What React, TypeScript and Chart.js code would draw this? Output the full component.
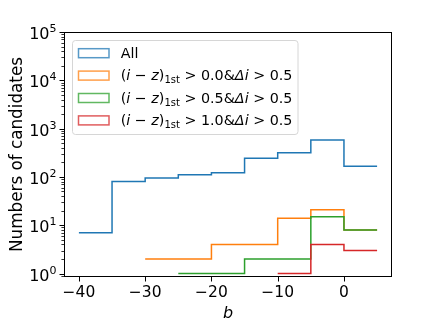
import React, { useEffect, useRef } from "react";
import { Chart, registerables } from "chart.js";

Chart.register(...registerables);

// ---- data ----
const binEdges = [-40, -35, -30, -25, -20, -15, -10, -5, 0, 5];
const allCounts: (number | null)[] = [7, 81, 95, 111, 122, 243, 318, 583, 166];
const cut00Counts: (number | null)[] = [null, null, 2, 2, 4, 4, 14, 21, 8];
const cut05Counts: (number | null)[] = [null, null, null, 1, 1, 2, 2, 15, 8];
const cut10Counts: (number | null)[] = [null, null, null, null, null, null, 1, 4, 3];
const seriesCounts = [allCounts, cut00Counts, cut05Counts, cut10Counts];
const seriesColors = ["#1f77b4", "#ff7f0e", "#2ca02c", "#d62728"];
const cutThresholds = ["0.0", "0.5", "1.0"];
const deltaICut = "0.5";
const xTickValues = [-40, -30, -20, -10, 0];
const yTickValues = [1, 10, 100, 1000, 10000, 100000];
const yTickExponents = ["0", "1", "2", "3", "4", "5"];
const xTitle = "b";
const yTitle = "Numbers of candidates";

const FONT = "'DejaVu Sans', sans-serif";

function stepPoints(counts: (number | null)[]) {
  const pts: { x: number; y: number }[] = [];
  let last = -1;
  counts.forEach((c, i) => {
    if (c !== null) {
      pts.push({ x: binEdges[i], y: c });
      last = i;
    }
  });
  if (last >= 0) pts.push({ x: binEdges[last + 1], y: counts[last] as number });
  return pts;
}

type Seg = [string, "n" | "i" | "sub"];
function legendRows(): Seg[][] {
  const rows: Seg[][] = [[["All", "n"]]];
  for (const t of cutThresholds) {
    rows.push([
      ["(", "n"],
      ["i", "i"],
      [" − ", "n"],
      ["z", "i"],
      [")", "n"],
      ["1st", "sub"],
      [" > " + t + "&", "n"],
      ["Δ", "i"],
      ["i", "i"],
      [" > " + deltaICut, "n"],
    ]);
  }
  return rows;
}

const decorPlugin = {
  id: "decor",
  afterDraw(chart: any) {
    const { ctx, chartArea: a, scales } = chart;
    const xs = scales.x;
    const ys = scales.y;
    ctx.save();
    ctx.strokeStyle = "#000";
    // x major ticks
    ctx.lineWidth = 1;
    for (const v of xTickValues) {
      const px = Math.round(xs.getPixelForValue(v)) + 0.5;
      ctx.beginPath();
      ctx.moveTo(px, a.bottom);
      ctx.lineTo(px, a.bottom + 4.5);
      ctx.stroke();
    }
    // y major ticks + labels (10 with superscript exponent)
    yTickValues.forEach((v, i) => {
      const py = Math.round(ys.getPixelForValue(v)) + 0.5;
      ctx.beginPath();
      ctx.moveTo(a.left - 4.5, py);
      ctx.lineTo(a.left, py);
      ctx.stroke();
      const exp = yTickExponents[i];
      ctx.fillStyle = "#000";
      ctx.textBaseline = "alphabetic";
      ctx.textAlign = "left";
      ctx.font = `11px ${FONT}`;
      const ew = ctx.measureText(exp).width;
      ctx.font = `16px ${FONT}`;
      const bw = ctx.measureText("10").width;
      const right = a.left - 7.5;
      const x0 = right - ew - bw;
      ctx.fillText("10", x0, py + 6.5);
      ctx.font = `11px ${FONT}`;
      ctx.fillText(exp, x0 + bw, py - 0.5);
    });
    // y minor ticks
    ctx.lineWidth = 0.8;
    for (let d = -1; d <= 4; d++) {
      for (let m = 2; m <= 9; m++) {
        const v = m * Math.pow(10, d);
        if (v < ys.min || v > ys.max) continue;
        const py = Math.round(ys.getPixelForValue(v)) + 0.5;
        ctx.beginPath();
        ctx.moveTo(a.left - 2.6, py);
        ctx.lineTo(a.left, py);
        ctx.stroke();
      }
    }
    // frame
    ctx.lineWidth = 1;
    ctx.strokeRect(a.left + 0.5, a.top + 0.5, a.right - a.left - 1, a.bottom - a.top - 1);

    // legend
    const lx = 72.5, ly = 40.5, lw = 225.5, lh = 94, r = 3;
    ctx.beginPath();
    ctx.moveTo(lx + r, ly);
    ctx.lineTo(lx + lw - r, ly);
    ctx.quadraticCurveTo(lx + lw, ly, lx + lw, ly + r);
    ctx.lineTo(lx + lw, ly + lh - r);
    ctx.quadraticCurveTo(lx + lw, ly + lh, lx + lw - r, ly + lh);
    ctx.lineTo(lx + r, ly + lh);
    ctx.quadraticCurveTo(lx, ly + lh, lx, ly + lh - r);
    ctx.lineTo(lx, ly + r);
    ctx.quadraticCurveTo(lx, ly, lx + r, ly);
    ctx.closePath();
    ctx.fillStyle = "rgba(255,255,255,0.8)";
    ctx.fill();
    ctx.strokeStyle = "#d6d6d6";
    ctx.lineWidth = 1;
    ctx.stroke();

    const rows = legendRows();
    const fs = 14.3;
    rows.forEach((segs, i) => {
      const base = 57.7 + i * 22.4;
      ctx.strokeStyle = seriesColors[i];
      ctx.lineWidth = 1.5;
      ctx.globalAlpha = 0.75;
      ctx.strokeRect(78.5, base - 9, 30.5, 9);
      ctx.globalAlpha = 1;
      ctx.fillStyle = "#000";
      ctx.textBaseline = "alphabetic";
      ctx.textAlign = "left";
      let x = 120.7;
      for (const [t, kind] of segs) {
        if (kind === "n") {
          ctx.font = `${fs}px ${FONT}`;
          ctx.fillText(t, x, base);
        } else if (kind === "i") {
          ctx.font = `oblique ${fs}px ${FONT}`;
          ctx.fillText(t, x, base);
        } else {
          ctx.font = `${fs * 0.7}px ${FONT}`;
          ctx.fillText(t, x, base + 3);
        }
        x += ctx.measureText(t).width;
      }
    });
    ctx.restore();
  },
};

export default function App() {
  const ref = useRef<HTMLCanvasElement | null>(null);
  useEffect(() => {
    if (!ref.current) return;
    const chart = new Chart(ref.current, {
      type: "line",
      data: {
        datasets: seriesCounts.map((c, i) => ({
          label: String(i),
          data: stepPoints(c),
          borderColor: seriesColors[i],
          borderWidth: 1.5,
          pointRadius: 0,
          fill: false,
          stepped: "before" as const,
          order: 3 - i,
        })),
      },
      options: {
        animation: false,
        responsive: true,
        maintainAspectRatio: false,
        layout: { padding: { top: 32, right: 44, left: 0, bottom: 0 } },
        plugins: { legend: { display: false }, tooltip: { enabled: false } },
        scales: {
          x: {
            type: "linear",
            min: -42.25,
            max: 7.25,
            grid: { display: false, drawTicks: false },
            border: { display: false },
            afterBuildTicks: (s: any) => {
              s.ticks = xTickValues.map((v) => ({ value: v }));
            },
            afterFit: (s: any) => {
              s.height = 50;
            },
            ticks: {
              padding: 7,
              color: "#000",
              font: { family: FONT, size: 15.5 },
              maxRotation: 0,
              callback: (v: any) => String(v).replace("-", "−"),
            },
            title: {
              display: true,
              text: xTitle,
              color: "#000",
              font: { family: FONT, size: 16, style: "italic" },
              padding: { top: 0, bottom: 4 },
            },
          },
          y: {
            type: "logarithmic",
            min: 0.85,
            max: 100000,
            grid: { display: false, drawTicks: false },
            border: { display: false },
            afterBuildTicks: (s: any) => {
              s.ticks = yTickValues.map((v) => ({ value: v }));
            },
            afterFit: (s: any) => {
              s.width = 64;
            },
            ticks: {
              display: false,
            },
            title: {
              display: true,
              text: yTitle,
              color: "#000",
              font: { family: FONT, size: 16.8 },
              padding: { top: 8, bottom: 0 },
            },
          },
        },
      },
      plugins: [decorPlugin],
    });
    return () => chart.destroy();
  }, []);
  return (
    <div style={{ position: "absolute", left: 0, top: 0, width: 436, height: 327 }}>
      <canvas ref={ref} />
    </div>
  );
}
